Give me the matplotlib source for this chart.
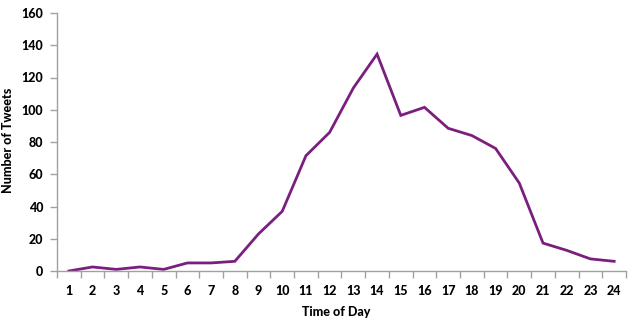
import matplotlib
matplotlib.use("Agg")
import matplotlib.pyplot as plt
import numpy as np

hours = list(range(1, 25))
tweets = [0, 2.5, 1, 2.5, 1, 5, 5, 6, 23, 37, 71.5, 86, 113.5, 134.5, 96.5, 101.5, 88.5, 84, 76, 54.5, 17.3, 12.8, 7.5, 6]
yticks = [0, 20, 40, 60, 80, 100, 120, 140, 160]

plt.rcParams['font.family'] = ['Lato', 'DejaVu Sans']
plt.rcParams['font.weight'] = 'bold'

fig = plt.figure(figsize=(6.29, 3.25), dpi=100)
ax = fig.add_axes([57/629, 1-271/325, (626-57)/629, (271-13)/325])
ax.plot(hours, tweets, color='#7B1F7F', lw=2.0, solid_joinstyle='miter')
ax.set_xlim(0.5, 24.5)
ax.set_ylim(0, 160)
ax.set_yticks(yticks)
ax.set_yticklabels([str(v) for v in yticks], fontsize=9, fontweight='black')
ax.set_xticks(hours)
ax.set_xticklabels([str(h) for h in hours], fontsize=9, fontweight='black')
ax.set_xticks(np.arange(0.5, 25, 1), minor=True)
ax.tick_params(axis='x', which='major', length=0, pad=10)
ax.tick_params(axis='x', which='minor', length=5, color='#A0A0A0', width=1)
ax.tick_params(axis='y', length=5, color='#A0A0A0', width=1, pad=5)
for s in ['top', 'right']:
    ax.spines[s].set_visible(False)
for s in ['left', 'bottom']:
    ax.spines[s].set_color('#A0A0A0')
    ax.spines[s].set_linewidth(1)
ax.set_xlabel('Time of Day', fontsize=9, fontweight='black')
ax.set_ylabel('Number of Tweets', fontsize=9, fontweight='black')
ax.xaxis.set_label_coords((336-57)/569, (271-312)/258)
ax.yaxis.set_label_coords((8-57)/569, (271-140)/258)
ax.xaxis.label.set_va('center')
ax.yaxis.label.set_va('center')
fig.savefig('out.png', dpi=100)
